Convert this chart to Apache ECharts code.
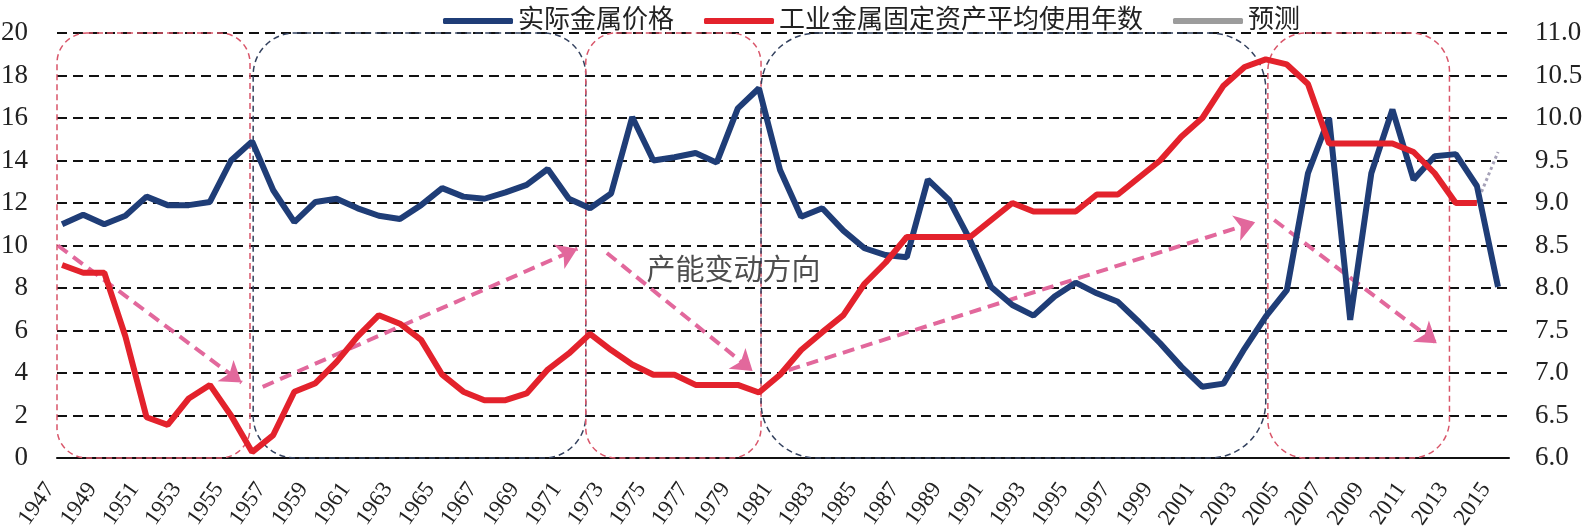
<!DOCTYPE html>
<html><head><meta charset="utf-8">
<script src="https://cdn.jsdelivr.net/npm/echarts@6/dist/echarts.min.js"></script>
<style>html,body{margin:0;padding:0;background:#fff}#c{width:1586px;height:527px}</style>
</head><body><div id="c"></div>
<script>
const years = [1947,1948,1949,1950,1951,1952,1953,1954,1955,1956,1957,1958,1959,1960,1961,1962,1963,1964,1965,1966,1967,1968,1969,1970,1971,1972,1973,1974,1975,1976,1977,1978,1979,1980,1981,1982,1983,1984,1985,1986,1987,1988,1989,1990,1991,1992,1993,1994,1995,1996,1997,1998,1999,2000,2001,2002,2003,2004,2005,2006,2007,2008,2009,2010,2011,2012,2013,2014,2015];
const labelYears = [1947,1949,1951,1953,1955,1957,1959,1961,1963,1965,1967,1969,1971,1973,1975,1977,1979,1981,1983,1985,1987,1989,1991,1993,1995,1997,1999,2001,2003,2005,2007,2009,2011,2013,2015];
// 实际金属价格 (left axis), 1947-2015
const metalPrice = [11.0,11.45,11.0,11.4,12.3,11.9,11.9,12.05,14.0,14.9,12.6,11.1,12.05,12.2,11.75,11.4,11.25,11.9,12.7,12.3,12.2,12.5,12.85,13.6,12.2,11.75,12.45,16.05,14.0,14.15,14.35,13.9,16.45,17.4,13.55,11.35,11.75,10.7,9.87,9.55,9.45,13.1,12.15,10.25,8.05,7.2,6.7,7.6,8.25,7.75,7.35,6.4,5.4,4.3,3.35,3.5,5.15,6.65,7.9,13.4,16.0,6.5,13.4,16.4,13.1,14.2,14.3,12.8,8.05];
// 工业金属固定资产平均使用年数 (right axis), 1947-2014
const assetAge = [8.27,8.18,8.18,7.43,6.48,6.39,6.7,6.86,6.5,6.07,6.27,6.78,6.88,7.13,7.43,7.68,7.58,7.39,6.98,6.78,6.68,6.68,6.76,7.04,7.23,7.46,7.27,7.1,6.98,6.98,6.86,6.86,6.86,6.77,6.98,7.27,7.48,7.68,8.05,8.3,8.6,8.6,8.6,8.6,8.8,9.0,8.9,8.9,8.9,9.1,9.1,9.3,9.5,9.78,10.0,10.38,10.6,10.69,10.63,10.4,9.7,9.7,9.7,9.7,9.6,9.35,9.0,9.0];
// 预测 (right axis)
const forecastYears = [2014,2015];
const forecastValues = [9.0,9.6];
// phase boxes: [fromYear, toYear]
const phaseBounds = [[1946.76,1955.9],[1956.05,1971.8],[1971.8,1980.1],[1980.1,2004.0],[2004.1,2012.7]];
// arrows: [[fromYear, fromValue],[toYear, toValue]] on left axis
const arrows = [
  [[1946.8,10.0],[1955.5,3.55]],
  [[1956.5,3.35],[1971.4,9.85]],
  [[1972.8,9.65],[1979.7,4.1]],
  [[1981.4,4.14],[2003.5,11.1]],
  [[2004.4,11.2],[2012.1,5.4]]
];
const noteText = '产能变动方向';
const notePos = [1978.8, 8.75];

const phaseStyle = [
  {color:'#d9566a', r:30},
  {color:'#33415e', r:42},
  {color:'#d9566a', r:30},
  {color:'#33415e', r:56},
  {color:'#d9566a', r:38}
];
const FONT = "'Liberation Serif','Noto Sans CJK SC',serif";

const chart = echarts.init(document.getElementById('c'));
chart.setOption({
  animation:false,
  backgroundColor:'#fff',
  textStyle:{fontFamily:FONT},
  grid:{left:57,right:77,top:33,bottom:69, containLabel:false, outerBoundsMode:'none'},
  legend:{
    left:438, top:3, itemWidth:70, itemHeight:6, itemGap:30, icon:'roundRect',
    textStyle:{fontSize:26, color:'#222', fontFamily:FONT},
    data:[
      {name:'实际金属价格', itemStyle:{color:'#1f3d77'}},
      {name:'工业金属固定资产平均使用年数', itemStyle:{color:'#e3222c'}},
      {name:'预测', itemStyle:{color:'#9c9c9c'}}
    ]
  },
  xAxis:{
    type:'value', min:1946.76, max:2015.52,
    axisLine:{show:true, onZero:false, lineStyle:{color:'#111', width:2}},
    axisTick:{show:false},
    splitLine:{show:false},
    axisLabel:{customValues:labelYears, rotate:55, fontSize:23, color:'#222', margin:10, padding:[0,21,0,0], fontFamily:FONT, formatter:v=>String(v)}
  },
  yAxis:[
    {type:'value', min:0, max:20, interval:2, position:'left',
     axisLine:{show:false}, axisTick:{show:false},
     splitLine:{show:true, lineStyle:{color:'#111', width:2, type:[10,6]}},
     axisLabel:{fontSize:27, color:'#222', margin:29, fontFamily:FONT}},
    {type:'value', min:6, max:11, interval:0.5, position:'right',
     axisLine:{show:false}, axisTick:{show:false}, splitLine:{show:false},
     axisLabel:{fontSize:27, color:'#222', margin:26, fontFamily:FONT, formatter:v=>v.toFixed(1)}}
  ],
  series:[
    {name:'实际金属价格', type:'line', yAxisIndex:0, symbol:'none', z:5,
     lineStyle:{color:'#1f3d77', width:6}, itemStyle:{color:'#1f3d77'},
     data:years.map((y,i)=>[y, metalPrice[i]])},
    {name:'工业金属固定资产平均使用年数', type:'line', yAxisIndex:1, symbol:'none', z:6,
     lineStyle:{color:'#e3222c', width:6}, itemStyle:{color:'#e3222c'},
     data:assetAge.map((v,i)=>[years[i], v])},
    {name:'预测', type:'line', yAxisIndex:1, symbol:'none', z:4,
     lineStyle:{color:'#a6a2b8', width:3, type:'dotted'}, itemStyle:{color:'#9c9c9c'},
     data:forecastYears.map((y,i)=>[y, forecastValues[i]])},
    {name:'phases', type:'custom', xAxisIndex:0, yAxisIndex:0, silent:true, z:2,
     data:phaseBounds.map((b,i)=>[b[0], b[1], 0, 20, i]),
     encode:{x:[0,1], y:[2,3]},
     renderItem:function(params, api){
       const i = api.value(4);
       const p1 = api.coord([api.value(0), api.value(3)]);
       const p2 = api.coord([api.value(1), api.value(2)]);
       const st = phaseStyle[i];
       return {type:'rect', shape:{x:p1[0], y:p1[1], width:p2[0]-p1[0], height:p2[1]-p1[1], r:st.r},
         style:{fill:null, stroke:st.color, lineWidth:1.5, lineDash:[6,4]}};
     }},
    {name:'arrows', type:'lines', coordinateSystem:'cartesian2d', xAxisIndex:0, yAxisIndex:0, silent:true, z:3,
     symbol:['none','arrow'], symbolSize:20,
     lineStyle:{color:'#e2689c', width:4, type:[12,7], opacity:1, curveness:0},
     data:arrows.map(a=>({coords:a}))},
    {name:'note', type:'scatter', xAxisIndex:0, yAxisIndex:0, silent:true, symbolSize:0, z:7,
     data:[notePos],
     label:{show:true, position:'inside', formatter:noteText, fontSize:29, color:'#222', fontFamily:FONT}}
  ]
});
</script></body></html>
